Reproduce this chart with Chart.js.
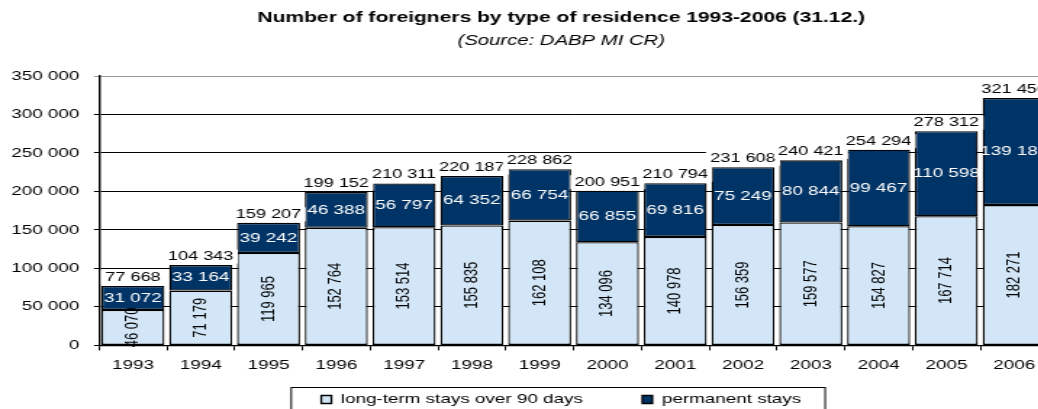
<!DOCTYPE html>
<html>
<head>
<meta charset="utf-8">
<title>Number of foreigners by type of residence 1993-2006</title>
<script src="https://cdn.jsdelivr.net/npm/chart.js@4.4.0/dist/chart.umd.min.js"></script>
<style>
html, body { margin: 0; padding: 0; background: #fff; overflow: hidden; }
/* the original picture is a stretched export, so the chart is drawn narrow and widened */
#wrap { width: 730px; height: 437px; transform: scaleX(1.45); transform-origin: 0 0; }
</style>
</head>
<body>
<div id="wrap"><canvas id="residence-chart" width="730" height="437"></canvas></div>
<script>
const years = ['1993', '1994', '1995', '1996', '1997', '1998', '1999', '2000', '2001', '2002', '2003', '2004', '2005', '2006'];
const longTermStays = [46070, 71179, 119965, 152764, 153514, 155835, 162108, 134096, 140978, 156359, 159577, 154827, 167714, 182271];
const permanentStays = [31072, 33164, 39242, 46388, 56797, 64352, 66754, 66855, 69816, 75249, 80844, 99467, 110598, 139185];
const totalStays = [77668, 104343, 159207, 199152, 210311, 220187, 228862, 200951, 210794, 231608, 240421, 254294, 278312, 321456];
const yMax = 350000;
const yStep = 50000;

const fontFamily = "'Liberation Sans', Arial, sans-serif";
Chart.defaults.font.family = fontFamily;
Chart.defaults.font.size = 13;
Chart.defaults.color = '#000';

function fmt(v) {
    return String(v).replace(/\B(?=(\d{3})+(?!\d))/g, ' ');
}

// value labels: rotated in the light part, white in the dark part, total on top
const barLabels = {
    id: 'barLabels',
    afterDatasetsDraw(chart) {
        const ctx = chart.ctx;
        const low = chart.getDatasetMeta(0).data;
        const high = chart.getDatasetMeta(1).data;
        ctx.save();
        ctx.textAlign = 'center';
        ctx.textBaseline = 'middle';
        ctx.font = '13px ' + fontFamily;
        low.forEach((bar, i) => {
            ctx.save();
            ctx.translate(bar.x, (bar.y + bar.base) / 2);
            ctx.rotate(-Math.PI / 2);
            ctx.fillStyle = '#000';
            ctx.fillText(fmt(longTermStays[i]), 0, 0);
            ctx.restore();
        });
        high.forEach((bar, i) => {
            ctx.font = '13px ' + fontFamily;
            ctx.fillStyle = '#fff';
            ctx.fillText(fmt(permanentStays[i]), bar.x, (bar.y + bar.base) / 2);

            const text = fmt(totalStays[i]);
            ctx.font = '12.5px ' + fontFamily;
            const w = ctx.measureText(text).width;
            const cy = bar.y - 8.5;
            ctx.fillStyle = '#fff';
            ctx.fillRect(bar.x - w / 2 - 3, cy - 7, w + 6, 14);
            ctx.fillStyle = '#000';
            ctx.fillText(text, bar.x, cy);
        });
        ctx.restore();
    }
};

// title and legend sit a little left of the plot centre, legend closer to the axis
const shiftBoxes = {
    id: 'shiftBoxes',
    afterLayout(chart) {
        chart.boxes.forEach(box => {
            if (box.axis) return;
            box.left -= 8.5;
            box.right -= 8.5;
            if (box === chart.legend) {
                box.top -= 21;
                box.bottom -= 21;
            }
        });
    }
};

const legendFrame = {
    id: 'legendFrame',
    afterDraw(chart) {
        const boxes = chart.legend.legendHitBoxes;
        if (!boxes || !boxes.length) return;
        const first = boxes[0];
        const last = boxes[boxes.length - 1];
        const ctx = chart.ctx;
        const left = first.left - 20.7;
        const right = last.left + last.width + 16.5;
        ctx.save();
        ctx.strokeStyle = '#000';
        ctx.lineWidth = 1;
        ctx.strokeRect(left, first.top - 5.5, right - left, 40);
        ctx.restore();
    }
};

const ctx = document.getElementById('residence-chart').getContext('2d');

const residenceChart = new Chart(ctx, {
    type: 'bar',
    data: {
        labels: years,
        datasets: [{
            label: 'long-term stays over 90 days',
            data: longTermStays,
            backgroundColor: '#d2e6f7',
            borderColor: '#000',
            borderWidth: 1.3,
            borderSkipped: false,
            barPercentage: 0.93,
            categoryPercentage: 1
        }, {
            label: 'permanent stays',
            data: permanentStays,
            backgroundColor: '#003366',
            borderColor: '#000',
            borderWidth: 1.3,
            borderSkipped: false,
            barPercentage: 0.93,
            categoryPercentage: 1
        }]
    },
    options: {
        responsive: false,
        animation: false,
        layout: {
            padding: { left: 7.8, right: 7.2, top: 0, bottom: 0 }
        },
        scales: {
            x: {
                stacked: true,
                grid: { drawOnChartArea: false, tickLength: 5, color: '#000' },
                border: { color: '#000', width: 1.2 },
                ticks: { padding: 7, autoSkip: false, maxRotation: 0 },
                afterFit: scale => { scale.height -= 7; }
            },
            y: {
                stacked: true,
                min: 0,
                max: yMax,
                grid: {
                    tickLength: 3.5,
                    color: c => (c.tick && c.tick.value === yMax ? '#999' : '#000')
                },
                border: { color: '#000', width: 1.4 },
                ticks: {
                    stepSize: yStep,
                    padding: 10,
                    callback: v => fmt(v)
                },
                afterFit: scale => { scale.width -= 10; }
            }
        },
        plugins: {
            title: {
                display: true,
                fullSize: false,
                text: 'Number of foreigners by type of residence 1993-2006 (31.12.)',
                color: '#000',
                font: { size: 14.5, weight: 'bold' },
                padding: { top: 9.3, bottom: 5.9 }
            },
            subtitle: {
                display: true,
                fullSize: false,
                text: '(Source: DABP MI CR)',
                color: '#000',
                font: { size: 14, style: 'italic' },
                padding: { top: 0, bottom: 26.6 }
            },
            legend: {
                position: 'bottom',
                fullSize: false,
                labels: { boxWidth: 7, boxHeight: 8, padding: 41, color: '#000', font: { size: 13 } }
            },
            tooltip: { enabled: false }
        }
    },
    plugins: [barLabels, shiftBoxes, legendFrame]
});
</script>
</body>
</html>
